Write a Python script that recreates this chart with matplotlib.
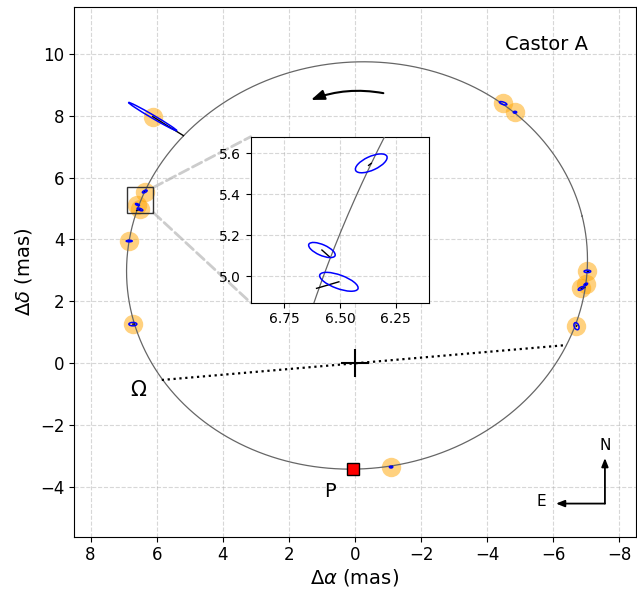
import numpy as np
import matplotlib
matplotlib.use("Agg")
import matplotlib.pyplot as plt
from matplotlib.patches import Ellipse, Rectangle, ConnectionPatch

# orbit (projected ellipse: centre + two conjugate semi-axis vectors, mas)
orbit_center = (-0.061, 3.161)
orbit_u = (-6.810, 1.590)
orbit_v = (1.491, 6.384)

# observed positions (mas)
obs_ra = [6.12, 6.36, 6.581, 6.505, 6.83, 6.72, -4.48, -4.84, -7.03, -6.98, -6.84, -6.70, -1.09]
obs_dec = [7.97, 5.55, 5.127, 4.972, 3.95, 1.266, 8.40, 8.11, 2.97, 2.55, 2.42, 1.20, -3.35]
# error ellipses: semi-major, semi-minor (mas), angle (deg)
err_a = [0.86, 0.078, 0.065, 0.092, 0.09, 0.12, 0.12, 0.05, 0.10, 0.06, 0.10, 0.12, 0.05]
err_b = [0.05, 0.033, 0.026, 0.033, 0.025, 0.055, 0.04, 0.03, 0.04, 0.03, 0.04, 0.07, 0.03]
err_ang = [32, 153, 26, 22, 0, 0, 20, 0, 0, 150, 150, 70, 0]
# model positions at the epochs of observation
mod_ra = [5.19, 6.372, 6.548, 6.605, 6.855, 6.67, -4.47, -4.86, -7.05, -6.99, -6.95, -6.71, -1.13]
mod_dec = [7.355, 5.54, 5.095, 4.94, 3.97, 1.27, 8.40, 8.12, 2.97, 2.53, 2.45, 1.22, -3.33]

node_ra = [5.845, -6.402]
node_dec = [-0.538, 0.590]
peri = (0.05, -3.415)

t = np.linspace(0, 2 * np.pi, 1000)
orb_x = orbit_center[0] + orbit_u[0] * np.cos(t) + orbit_v[0] * np.sin(t)
orb_y = orbit_center[1] + orbit_u[1] * np.cos(t) + orbit_v[1] * np.sin(t)


def draw_obs(ax, orange=True):
    if orange:
        ax.plot(obs_ra, obs_dec, 'o', color='orange', ms=14, alpha=0.5, mec='none', zorder=2)
    for i in range(len(obs_ra)):
        ax.plot([obs_ra[i], mod_ra[i]], [obs_dec[i], mod_dec[i]], 'k-', lw=1, zorder=4)
        e = Ellipse((obs_ra[i], obs_dec[i]), 2 * err_a[i], 2 * err_b[i], angle=err_ang[i],
                    fc='none', ec='blue', lw=1.1, zorder=5)
        ax.add_patch(e)


fig = plt.figure(figsize=(6.37, 5.89), dpi=100)
ax = fig.add_axes([74 / 637, 52.3 / 589, 562 / 637, 529.4 / 589])

ax.plot(orb_x, orb_y, color='0.4', lw=0.9, zorder=3)
draw_obs(ax)
ax.plot(node_ra, node_dec, 'k:', lw=1.6, zorder=3)
ax.plot(0, 0, '+', color='k', ms=20, mew=1.5, zorder=4)
ax.plot(peri[0], peri[1], 's', color='red', mec='k', ms=9, zorder=6)

ax.text(6.56, -0.86, r'$\Omega$', fontsize=15, ha='center', va='center')
ax.text(0.76, -4.14, 'P', fontsize=14, ha='center', va='center')
ax.text(-5.8, 10.29, 'Castor A', fontsize=14, ha='center', va='center')

# direction of motion
ax.annotate('', xy=(1.41, 8.475), xytext=(-0.94, 8.71),
            arrowprops=dict(arrowstyle='-|>,head_length=0.8,head_width=0.3', color='k', lw=1.5,
                            connectionstyle='arc3,rad=0.15'))

# compass
ax.annotate('', xy=(-7.56, -3.06), xytext=(-7.56, -4.53),
            arrowprops=dict(arrowstyle='-|>,head_length=0.5,head_width=0.2', color='k', lw=1.3,
                            shrinkA=0, shrinkB=0))
ax.annotate('', xy=(-6.08, -4.53), xytext=(-7.56, -4.53),
            arrowprops=dict(arrowstyle='-|>,head_length=0.5,head_width=0.2', color='k', lw=1.3,
                            shrinkA=0, shrinkB=0))
ax.text(-7.56, -2.65, 'N', fontsize=11, ha='center', va='center')
ax.text(-5.65, -4.46, 'E', fontsize=11, ha='center', va='center')

ax.set_xlim(8.5, -8.5)
ax.set_ylim(-5.6, 11.5)
ax.set_xticks(np.arange(-8, 9, 2))
ax.set_yticks(np.arange(-4, 11, 2))
ax.tick_params(labelsize=12)
ax.set_xlabel(r'$\Delta\alpha$ (mas)', fontsize=14, labelpad=2)
ax.set_ylabel(r'$\Delta\delta$ (mas)', fontsize=14)
ax.grid(True, ls='--', alpha=0.5)

# zoomed region
zx = (6.9, 6.1)
zy = (4.87, 5.68)
ax.add_patch(Rectangle((zx[1], zy[0]), zx[0] - zx[1], zy[1] - zy[0], fc='none', ec='0.2', lw=1, zorder=6))

axins = fig.add_axes([250.7 / 637, 286.3 / 589, 178.6 / 637, 166 / 589])
axins.plot(orb_x, orb_y, color='0.4', lw=0.9, zorder=3)
draw_obs(axins, orange=False)
axins.set_xlim(*zx)
axins.set_ylim(*zy)
axins.set_xticks([6.75, 6.5, 6.25])
axins.set_yticks([5.0, 5.2, 5.4, 5.6])
axins.tick_params(labelsize=10)
axins.grid(True, ls='--', alpha=0.5)

for yb, yi in [(zy[1], 1), (zy[0], 0)]:
    con = ConnectionPatch(xyA=(zx[1], yb), coordsA=ax.transData, xyB=(0, yi), coordsB=axins.transAxes,
                          color='0.8', ls='--', lw=2, zorder=1)
    ax.add_artist(con)

fig.savefig('out.png', dpi=100)
